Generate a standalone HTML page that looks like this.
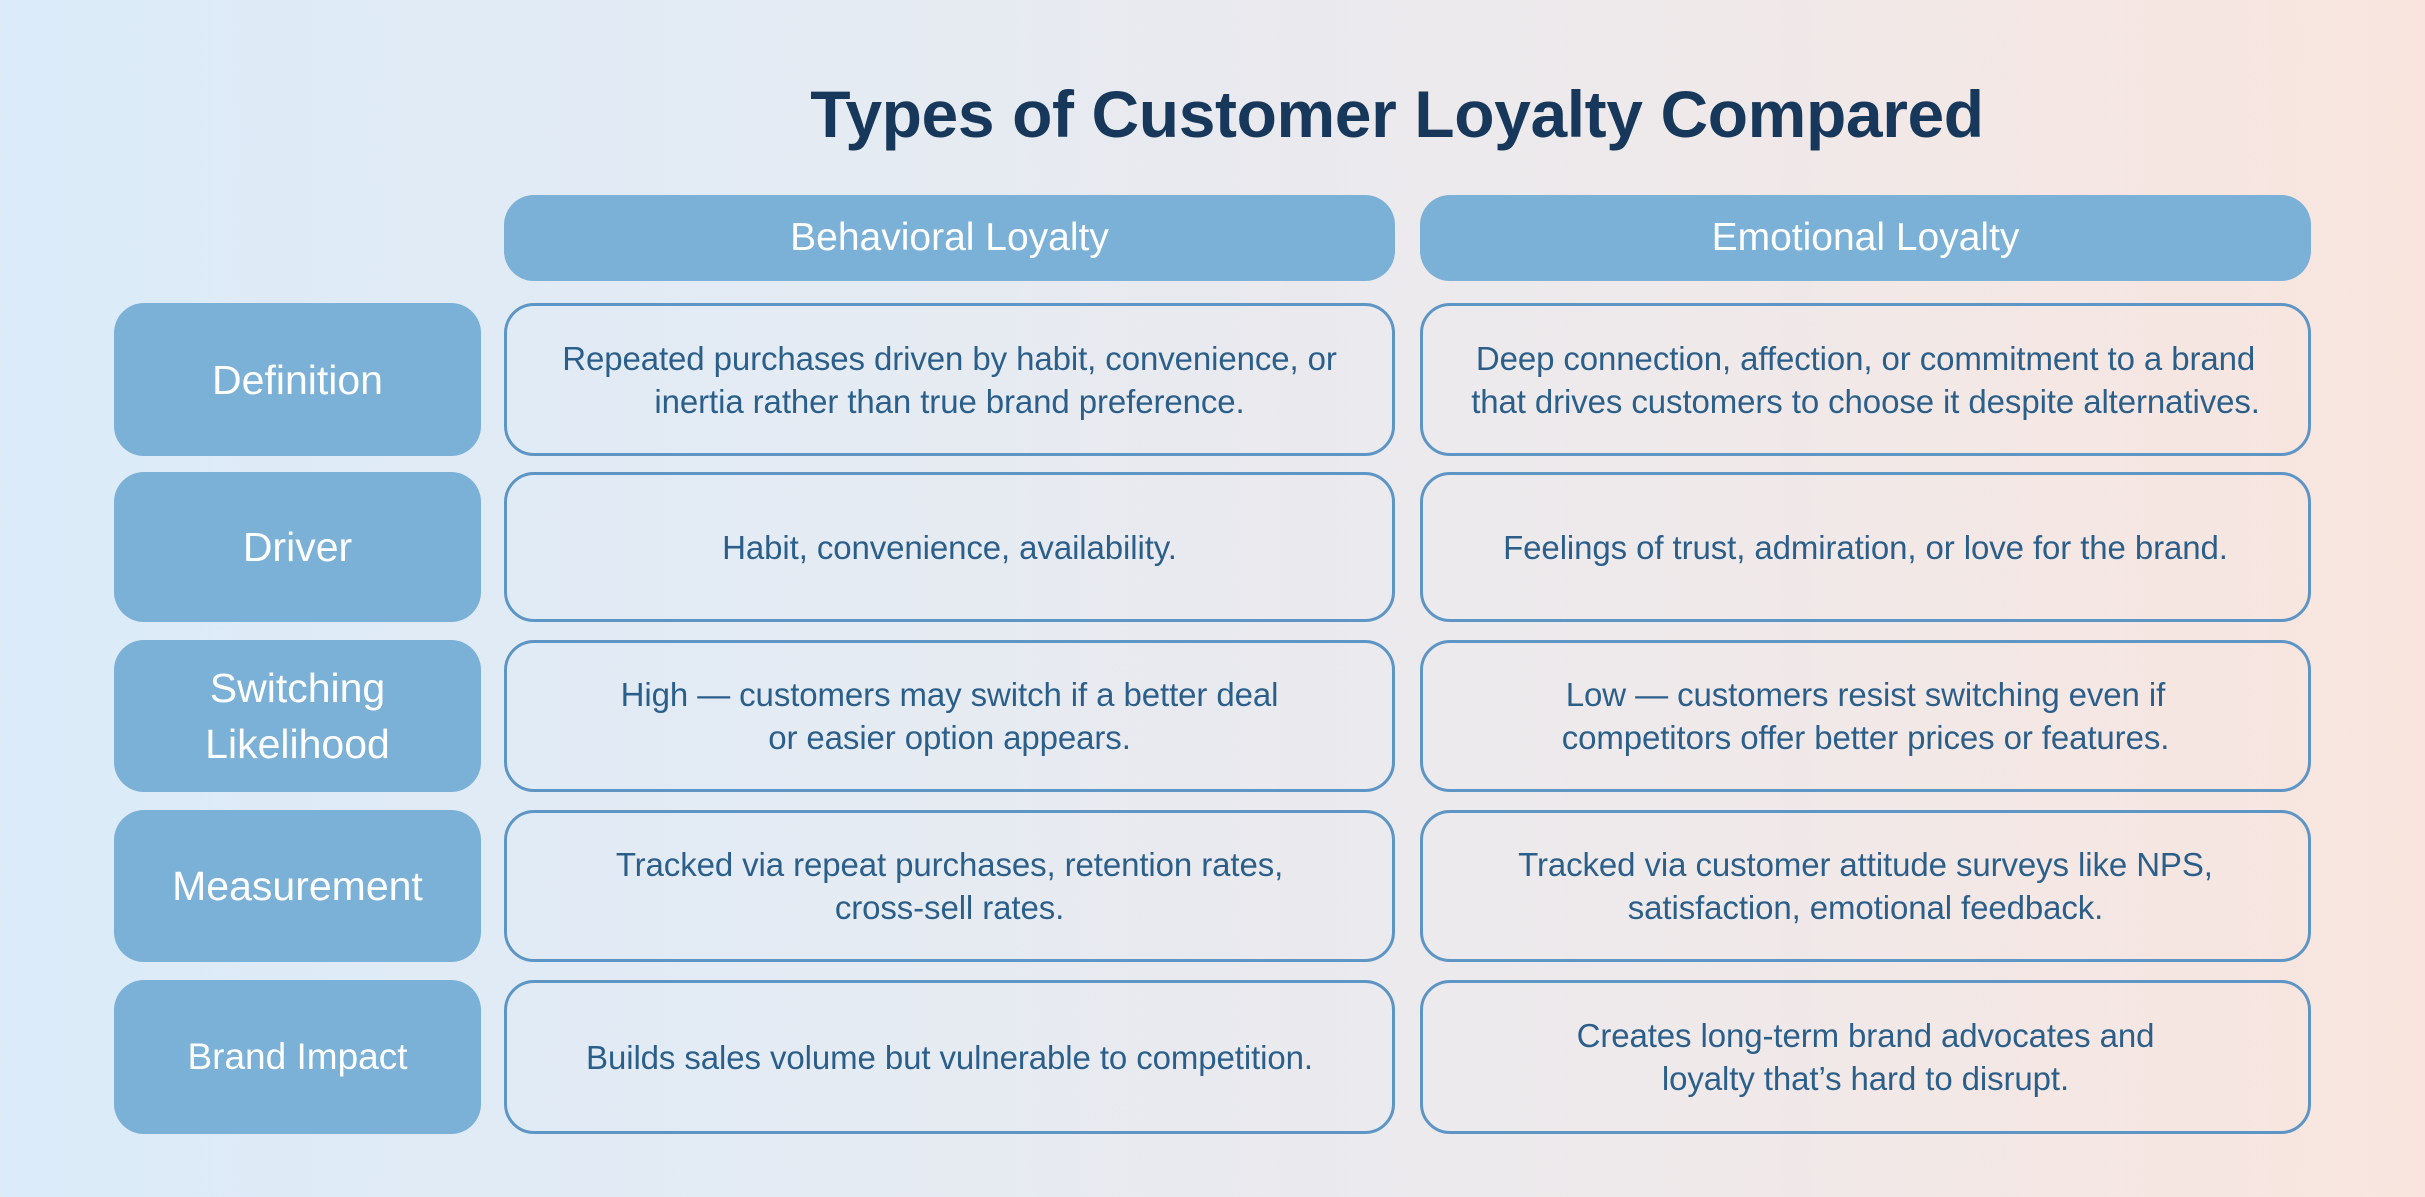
<!DOCTYPE html>
<html><head><meta charset="utf-8"><style>
html,body{margin:0;padding:0}
body{width:2425px;height:1197px;position:relative;overflow:hidden;font-family:"Liberation Sans",sans-serif;
background:linear-gradient(90deg,#dbebf9 0%,#e6ebf2 40%,#efe9ea 70%,#f9e5de 100%);}
.t{position:absolute;left:0;width:2794px;top:76px;text-align:center;font-size:66px;font-weight:bold;color:#17385a;letter-spacing:-0.4px}
.b{position:absolute;box-sizing:border-box;display:flex;align-items:center;justify-content:center;text-align:center}
.h{background:#7bb0d7;color:#fff;font-size:39px;border-radius:30px}
.l{background:#7bb0d7;color:#fff;font-size:41px;border-radius:30px;line-height:56px}
.c{border:3px solid #5d95c4;border-radius:30px;color:#2b5f8a;font-size:33px;line-height:43px;letter-spacing:-0.1px}
</style></head><body>
<div class="t">Types of Customer Loyalty Compared</div>
<div class="b h" style="left:504px;top:195px;width:891px;height:86px">Behavioral Loyalty</div>
<div class="b h" style="left:1420px;top:195px;width:891px;height:86px">Emotional Loyalty</div>

<div class="b l" style="left:114px;top:303px;width:367px;height:153px">Definition</div>
<div class="b c" style="left:504px;top:303px;width:891px;height:153px">Repeated purchases driven by habit, convenience, or<br>inertia rather than true brand preference.</div>
<div class="b c" style="left:1420px;top:303px;width:891px;height:153px">Deep connection, affection, or commitment to a brand<br>that drives customers to choose it despite alternatives.</div>

<div class="b l" style="left:114px;top:472px;width:367px;height:150px">Driver</div>
<div class="b c" style="left:504px;top:472px;width:891px;height:150px">Habit, convenience, availability.</div>
<div class="b c" style="left:1420px;top:472px;width:891px;height:150px">Feelings of trust, admiration, or love for the brand.</div>

<div class="b l" style="left:114px;top:640px;width:367px;height:152px">Switching<br>Likelihood</div>
<div class="b c" style="left:504px;top:640px;width:891px;height:152px">High — customers may switch if a better deal<br>or easier option appears.</div>
<div class="b c" style="left:1420px;top:640px;width:891px;height:152px">Low — customers resist switching even if<br>competitors offer better prices or features.</div>

<div class="b l" style="left:114px;top:810px;width:367px;height:152px">Measurement</div>
<div class="b c" style="left:504px;top:810px;width:891px;height:152px">Tracked via repeat purchases, retention rates,<br>cross-sell rates.</div>
<div class="b c" style="left:1420px;top:810px;width:891px;height:152px">Tracked via customer attitude surveys like NPS,<br>satisfaction, emotional feedback.</div>

<div class="b l" style="left:114px;top:980px;width:367px;height:154px;font-size:37px">Brand Impact</div>
<div class="b c" style="left:504px;top:980px;width:891px;height:154px">Builds sales volume but vulnerable to competition.</div>
<div class="b c" style="left:1420px;top:980px;width:891px;height:154px">Creates long-term brand advocates and<br>loyalty that’s hard to disrupt.</div>
</body></html>
